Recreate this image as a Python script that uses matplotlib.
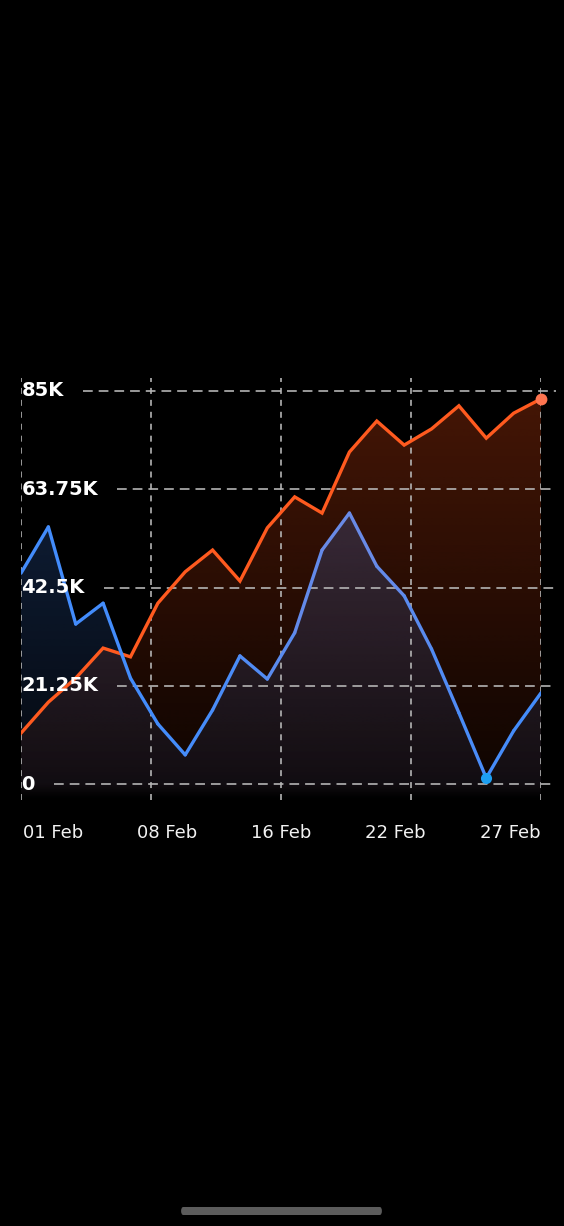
import numpy as np
import matplotlib
matplotlib.use("Agg")
import matplotlib.pyplot as plt
from matplotlib.patches import FancyBboxPatch
from matplotlib.collections import LineCollection
from matplotlib.colors import to_rgb

plt.rcParams['lines.scale_dashes'] = False

# ---------------- data ----------------
orange_values = [11000, 17700, 22900, 29400, 27500, 39100, 45900, 50600, 43900, 55400,
                 62100, 58600, 71800, 78500, 73300, 76800, 81800, 74800, 80200, 83300]
blue_values = [45600, 55600, 34600, 39100, 22900, 13000, 6300, 16000, 27700, 22700,
               32700, 50600, 58600, 47100, 40700, 29200, 15400, 1300, 11500, 19700]
y_ticks = [0, 21250, 42500, 63750, 85000]
y_tick_labels = ["0", "21.25K", "42.5K", "63.75K", "85K"]
x_tick_labels = ["01 Feb", "08 Feb", "16 Feb", "22 Feb", "27 Feb"]

# ---------------- figure ----------------
W, H, DPI = 564, 1226, 100
fig = plt.figure(figsize=(W / DPI, H / DPI), dpi=DPI, facecolor="black")

left_px, right_px = 21, 541
top_px, bottom_px = 378, 800
ax = fig.add_axes([left_px / W, 1 - bottom_px / H, (right_px - left_px) / W, (bottom_px - top_px) / H])
ax.set_facecolor("black")
for s in ax.spines.values():
    s.set_visible(False)

n = len(orange_values)
x = np.arange(n)
ymax_tick = y_ticks[-1]
px_per_val = (784 - 391) / ymax_tick
ylo = -(bottom_px - 784) / px_per_val
yhi = ymax_tick + (391 - top_px) / px_per_val
ax.set_xlim(0, n - 1)
ax.set_ylim(ylo, yhi)

orange = np.array(orange_values, float)
blue = np.array(blue_values, float)


def gradient_fill(yvals, rgb, a_top, a_zero, zorder):
    poly = ax.fill_between(x, yvals, ylo, facecolor="none", edgecolor="none")
    top = yvals.max()
    m = 400
    v = np.linspace(ylo, top, m)
    alpha = np.where(v >= 0, a_zero + (a_top - a_zero) * v / top,
                     a_zero * (v - ylo) / (0 - ylo))
    img = np.zeros((m, 1, 4))
    img[..., 0] = rgb[0] / 255
    img[..., 1] = rgb[1] / 255
    img[..., 2] = rgb[2] / 255
    img[:, 0, 3] = np.clip(alpha, 0, 1)
    im = ax.imshow(img, extent=[x[0], x[-1], ylo, top], origin="lower",
                   aspect="auto", zorder=zorder, interpolation="bilinear")
    im.set_clip_path(poly.get_paths()[0], transform=ax.transData)
    ax.set_xlim(0, n - 1)
    ax.set_ylim(ylo, yhi)


gradient_fill(orange, (245, 78, 22), 0.28, 0.06, 1)
gradient_fill(blue, (70, 135, 245), 0.21, 0.07, 2)

grid_col = "#b4b4b4"
# vertical dashed grid
for xv in np.linspace(0, n - 1, 5):
    ax.axvline(xv, color=grid_col, lw=1.2, dashes=(4.3, 4.3), zorder=3)

# lines
ax.plot(x, orange, color="#ff5a1f", lw=2.4, zorder=5, solid_joinstyle="miter")

# blue line with a subtle horizontal tint (bright blue at sides, lavender in middle)
pts = np.column_stack([x, blue])
segs = np.stack([pts[:-1], pts[1:]], axis=1)
mid = (x[:-1] + x[1:]) / 2
w = np.exp(-((mid - 12.0) / 3.5) ** 2)
c_side = np.array(to_rgb("#438cfb"))
c_mid = np.array(to_rgb("#6a8ae6"))
cols = c_side[None, :] * (1 - w[:, None]) + c_mid[None, :] * w[:, None]
lc = LineCollection(segs, colors=cols, linewidths=2.4, zorder=6, capstyle="round", joinstyle="round")
ax.add_collection(lc)

# markers
ax.plot([x[-1]], [orange[-1]], "o", ms=8.5, color="#ff7550", mec="none", zorder=7, clip_on=False)
imin = int(np.argmin(blue))
ax.plot([x[imin]], [blue[imin]], "o", ms=8.0, color="#1d9ff2", mec="none", zorder=7, clip_on=False)

# y labels
ylabels = []
for v, lab in zip(y_ticks, y_tick_labels):
    t = ax.text(0.02, v, lab, color="white", fontsize=14, fontweight="bold",
                ha="left", va="center", zorder=10, family="DejaVu Sans")
    ylabels.append(t)

# x labels
xdata_per_px = (n - 1) / (right_px - left_px)
label_centers_px = np.linspace(53, 510, len(x_tick_labels))
ax.set_xticks((label_centers_px - left_px) * xdata_per_px)
ax.set_xticklabels(x_tick_labels, color="#f2f2f2", fontsize=13)
ax.tick_params(axis="x", length=0, pad=17)
ax.set_yticks([])

# horizontal dashed grid starting after labels
fig.canvas.draw()
r = fig.canvas.get_renderer()
inv = ax.transData.inverted()
x_end = n - 1 + 15 * xdata_per_px
for t, v in zip(ylabels, y_ticks):
    bb = t.get_window_extent(renderer=r)
    xs = inv.transform((bb.x1 + 19, 0))[0]
    ax.plot([xs, x_end], [v, v], color=grid_col, lw=1.2, dashes=(7.0, 4.3),
            zorder=3, clip_on=False)

# home indicator
bar = FancyBboxPatch((181 / W, 1 - 1215 / H), 201 / W, 8 / H,
                     boxstyle="round,pad=0,rounding_size=0.004",
                     transform=fig.transFigure, facecolor="#5c5c5c", edgecolor="none")
fig.patches.append(bar)

fig.savefig("out.png", dpi=DPI, facecolor="black")
